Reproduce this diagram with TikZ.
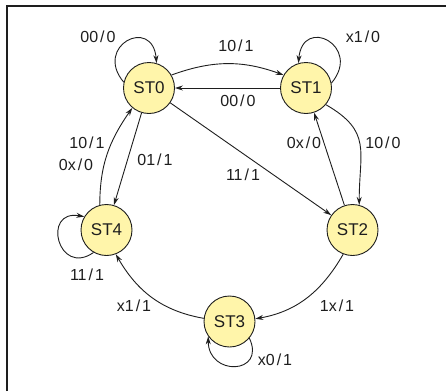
\documentclass[tikz,border=0pt]{standalone}
\usepackage{fontspec}
\setmainfont{Liberation Sans}
\usetikzlibrary{arrows.meta}
\definecolor{statefill}{RGB}{255,245,170}
\definecolor{ink}{RGB}{30,30,30}
\newcommand\io[2]{#1\kern2pt/\kern2pt#2}
\tikzset{
  state/.style={circle,draw=ink,line width=0.9pt,fill=statefill,minimum size=51pt,inner sep=0pt,
    font=\fontsize{17}{19}\selectfont,text=ink},
  trans/.style={draw=ink,line width=0.9pt,-{Stealth[length=8pt,width=5pt]}},
  lbl/.style={font=\fontsize{16}{18}\selectfont,text=ink,inner sep=0pt}
}
\begin{document}
\begin{tikzpicture}[x=1pt,y=-1pt]
\useasboundingbox (0,0) rectangle (446,391);
% frame (top and left edges)
\draw[ink,line width=1.3pt] (7,391) -- (7,6) -- (446,6);

% states
\node[state] (st0) at (149,88) {ST0};
\node[state] (st1) at (306,88) {ST1};
\node[state] (st2) at (352.5,230) {ST2};
\node[state] (st3) at (229.5,321.5) {ST3};
\node[state] (st4) at (106.5,230) {ST4};

% self loops
\draw[trans] (st0.167) to[out=130,in=95,looseness=3.2] (st0.73);
\draw[trans] (st1.11) to[out=50,in=85,looseness=3.2] (st1.107);
\draw[trans] (st4.240) to[out=215,in=170,looseness=3] (st4.149);
\draw[trans] (st3.-40) to[out=-65,in=270,looseness=2.5] (st3.215);

% transitions between states
\draw[trans] (st0.30) to[bend left=20] (st1.150);
\draw[trans] (st1) -- (st0);
\draw[trans] (st0) -- (st2);
\draw[trans] (st0) -- (st4);
\draw[trans] (st4.105) to[out=90,in=235] (st0.230);
\draw[trans] (st1.-40) to[out=-30,in=90,looseness=1.3] (st2.75);
\draw[trans] (st2) -- (st1);
\draw[trans] (st2.249) to[out=240,in=10] (st3.6);
\draw[trans] (st3.173) to[out=170,in=300] (st4.-69);

% labels
\node[lbl] (l00a) at (98,37) {\io{00}{0}};
\node[lbl] (l10a) at (236,46) {\io{10}{1}};
\node[lbl] (lx1a) at (363,37) {\io{x1}{0}};
\node[lbl] (l00b) at (238,101) {\io{00}{0}};
\node[lbl] (l10b) at (87,143) {\io{10}{1}};
\node[lbl] (l0xa) at (76,165) {\io{0x}{0}};
\node[lbl] (l01) at (155,160) {\io{01}{1}};
\node[lbl] (l11a) at (243,175) {\io{11}{1}};
\node[lbl] (l0xb) at (304,143) {\io{0x}{0}};
\node[lbl] (l10c) at (383,143) {\io{10}{0}};
\node[lbl] (l11b) at (87,275) {\io{11}{1}};
\node[lbl] (lx1b) at (134,306) {\io{x1}{1}};
\node[lbl] (l1x) at (337,306) {\io{1x}{1}};
\node[lbl] (lx0) at (275,360) {\io{x0}{1}};
\end{tikzpicture}
\end{document}
